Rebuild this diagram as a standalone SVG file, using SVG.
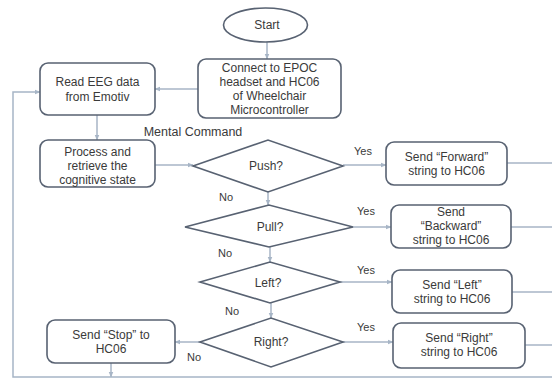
<svg xmlns="http://www.w3.org/2000/svg" width="552" height="379" viewBox="0 0 552 379">
<defs>
<style>
.shape{fill:#ffffff;stroke:#586272;stroke-width:1.6}
.t{font-family:"Liberation Sans",Arial,sans-serif;font-size:12px;fill:#3a3a3a;text-anchor:middle;dominant-baseline:central}
.lbl{font-family:"Liberation Sans",Arial,sans-serif;font-size:11px;fill:#3a3a3a;text-anchor:middle;dominant-baseline:central}
.c{fill:none;stroke:#a7b5c6;stroke-width:1.5}
</style>
<marker id="ah" viewBox="0 0 10 10" refX="9" refY="5" markerWidth="6" markerHeight="6" orient="auto-start-reverse" markerUnits="userSpaceOnUse">
<path d="M0,1 L10,5 L0,9 z" fill="#a7b5c6"/>
</marker>
</defs>
<rect width="552" height="379" fill="#ffffff"/>

<g id="connectors">
<line class="c" x1="267" y1="42" x2="267" y2="59" marker-end="url(#ah)"/>
<line class="c" x1="198" y1="89" x2="155" y2="89" marker-end="url(#ah)"/>
<line class="c" x1="97" y1="115" x2="97" y2="140" marker-end="url(#ah)"/>
<line class="c" x1="155" y1="165" x2="193" y2="165" marker-end="url(#ah)"/>
<line class="c" x1="343" y1="165" x2="386" y2="165" marker-end="url(#ah)"/>
<line class="c" x1="268" y1="192" x2="268" y2="205" marker-end="url(#ah)"/>
<line class="c" x1="353" y1="227" x2="391" y2="227" marker-end="url(#ah)"/>
<line class="c" x1="270" y1="247" x2="270" y2="262" marker-end="url(#ah)"/>
<line class="c" x1="340" y1="282" x2="392" y2="282" marker-end="url(#ah)"/>
<line class="c" x1="271" y1="303" x2="271" y2="318" marker-end="url(#ah)"/>
<line class="c" x1="343" y1="342" x2="393" y2="342" marker-end="url(#ah)"/>
<line class="c" x1="200" y1="342" x2="175" y2="342" marker-end="url(#ah)"/>
<line class="c" x1="111" y1="363" x2="111" y2="377" marker-end="url(#ah)"/>
<line class="c" x1="507" y1="163" x2="552" y2="163"/>
<line class="c" x1="511" y1="227" x2="552" y2="227"/>
<line class="c" x1="512" y1="292" x2="552" y2="292"/>
<line class="c" x1="525" y1="345" x2="552" y2="345"/>
<polyline class="c" points="552,377 13,377 13,92 40,92" marker-end="url(#ah)"/>
<text class="lbl" x="363" y="151">Yes</text>
<text class="lbl" x="226" y="197">No</text>
<text class="lbl" x="366" y="211">Yes</text>
<text class="lbl" x="225" y="253">No</text>
<text class="lbl" x="366" y="270">Yes</text>
<text class="lbl" x="232" y="311">No</text>
<text class="lbl" x="366" y="327">Yes</text>
<text class="lbl" x="194" y="357">No</text>
<text class="t" x="193" y="132" style="font-size:12.5px">Mental Command</text>
</g>

<g id="start">
<ellipse class="shape" cx="265.5" cy="25" rx="42" ry="17"/>
<text class="t" x="267" y="25">Start</text>
</g>

<g id="connect">
<rect class="shape" x="198" y="59" width="143" height="59" rx="8"/>
<text class="t" x="269.5" y="68">Connect to EPOC</text>
<text class="t" x="269.5" y="82">headset and HC06</text>
<text class="t" x="269.5" y="96">of Wheelchair</text>
<text class="t" x="269.5" y="110">Microcontroller</text>
</g>

<g id="read">
<rect class="shape" x="40" y="63" width="115" height="52" rx="8"/>
<text class="t" x="97.5" y="82">Read EEG data</text>
<text class="t" x="97.5" y="97">from Emotiv</text>
</g>

<g id="process">
<rect class="shape" x="40" y="140" width="115" height="47" rx="8"/>
<text class="t" x="97.5" y="152">Process and</text>
<text class="t" x="97.5" y="166">retrieve the</text>
<text class="t" x="97.5" y="180">cognitive state</text>
</g>

<g id="push">
<polygon class="shape" points="193,166 268,140 343,166 268,192"/>
<text class="t" x="266" y="166">Push?</text>
</g>

<g id="pull">
<polygon class="shape" points="185,227 269,205 353,227 269,247"/>
<text class="t" x="270" y="227">Pull?</text>
</g>

<g id="left">
<polygon class="shape" points="200,282 270,262 340,282 270,303"/>
<text class="t" x="268" y="283">Left?</text>
</g>

<g id="right">
<polygon class="shape" points="200,342 271,318 343,342 271,367"/>
<text class="t" x="271" y="342">Right?</text>
</g>

<g id="forward">
<rect class="shape" x="386" y="142" width="121" height="43" rx="8"/>
<text class="t" x="446.5" y="157">Send “Forward”</text>
<text class="t" x="446.5" y="171">string to HC06</text>
</g>

<g id="backward">
<rect class="shape" x="391" y="205" width="120" height="43" rx="8"/>
<text class="t" x="451" y="212">Send</text>
<text class="t" x="451" y="226">“Backward”</text>
<text class="t" x="451" y="240">string  to HC06</text>
</g>

<g id="leftbox">
<rect class="shape" x="392" y="270" width="120" height="43" rx="8"/>
<text class="t" x="452" y="285">Send “Left”</text>
<text class="t" x="452" y="299">string to HC06</text>
</g>

<g id="rightbox">
<rect class="shape" x="393" y="323" width="132" height="45" rx="8"/>
<text class="t" x="459" y="338">Send “Right”</text>
<text class="t" x="459" y="352">string to HC06</text>
</g>

<g id="stop">
<rect class="shape" x="47" y="320" width="128" height="43" rx="8"/>
<text class="t" x="111" y="335">Send “Stop” to</text>
<text class="t" x="111" y="349">HC06</text>
</g>
</svg>
